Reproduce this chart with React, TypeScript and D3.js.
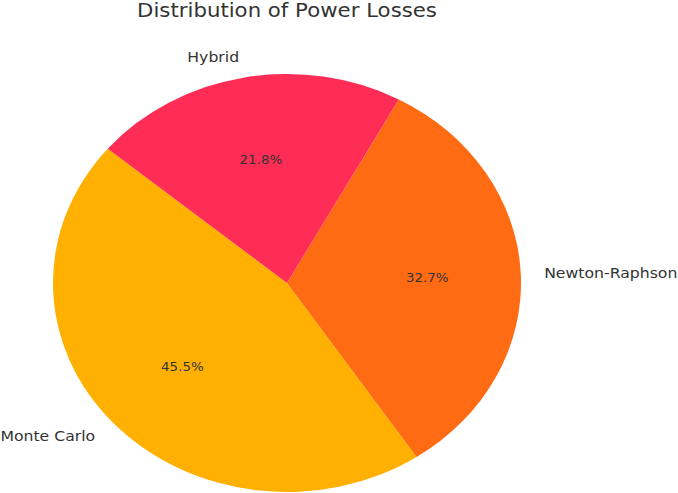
import React, { useEffect, useRef } from 'react';
import * as d3 from 'd3';

const methods = ['Monte Carlo', 'Newton-Raphson', 'Hybrid'];
const losses = [50, 36, 24];
const colors = ['#FFB000', '#FF6B12', '#FF2D55'];

const App = () => {
    const svgRef = useRef<SVGSVGElement>(null);

    useEffect(() => {
        const width = 678;
        const height = 493;
        const cx = 287;
        const cy = 283;
        const rx = 234;
        const ry = 209;
        const sx = rx / ry; // image is stretched horizontally

        const svg = d3.select(svgRef.current);
        svg.selectAll('*').remove();
        svg.attr('width', width).attr('height', height);

        const data = methods.map((m, i) => ({ name: m, value: losses[i], color: colors[i] }));
        const total = d3.sum(losses);

        //matplotlib startangle=140, counterclockwise
        const start = (90 - 140) * Math.PI / 180;
        const pie = d3.pie<any>()
            .value(d => d.value)
            .sort(null)
            .startAngle(start)
            .endAngle(start - 2 * Math.PI);

        const arcs = pie(data);
        const arc = d3.arc<any>().innerRadius(0).outerRadius(ry);

        const g = svg.append('g')
            .attr('transform', `translate(${cx},${cy}) scale(${sx},1)`);

        g.selectAll('path')
            .data(arcs)
            .enter().append('path')
            .attr('d', arc)
            .attr('fill', d => d.data.color);

        const pos = (a: number, f: number) => {
            // d3 angle: clockwise from 12 o'clock
            return [cx + f * rx * Math.sin(a), cy - f * ry * Math.cos(a)];
        };

        const stretchedText = (x: number, y: number, size: number, anchor: string, txt: string) => {
            svg.append('text')
                .attr('transform', `translate(${x},${y}) scale(${sx},1)`)
                .attr('text-anchor', anchor)
                .attr('dominant-baseline', 'central')
                .attr('font-family', 'DejaVu Sans')
                .attr('font-size', size)
                .attr('fill', '#333')
                .text(txt);
        };

        arcs.forEach(d => {
            const mid = (d.startAngle + d.endAngle) / 2;
            const [lx, ly] = pos(mid, 1.1);
            stretchedText(lx, ly, 14, Math.sin(mid) < 0 ? 'end' : 'start', d.data.name);

            const [px, py] = pos(mid, 0.6);
            stretchedText(px, py, 12, 'middle', d3.format('.1f')(d.data.value / total * 100) + '%');
        });

        //title
        stretchedText(cx, 10, 19, 'middle', 'Distribution of Power Losses');
    }, []);

    return (
        <svg ref={svgRef} style={{ position: 'absolute', left: 0, top: 0, display: 'block' }}></svg>
    );
};

export default App;
